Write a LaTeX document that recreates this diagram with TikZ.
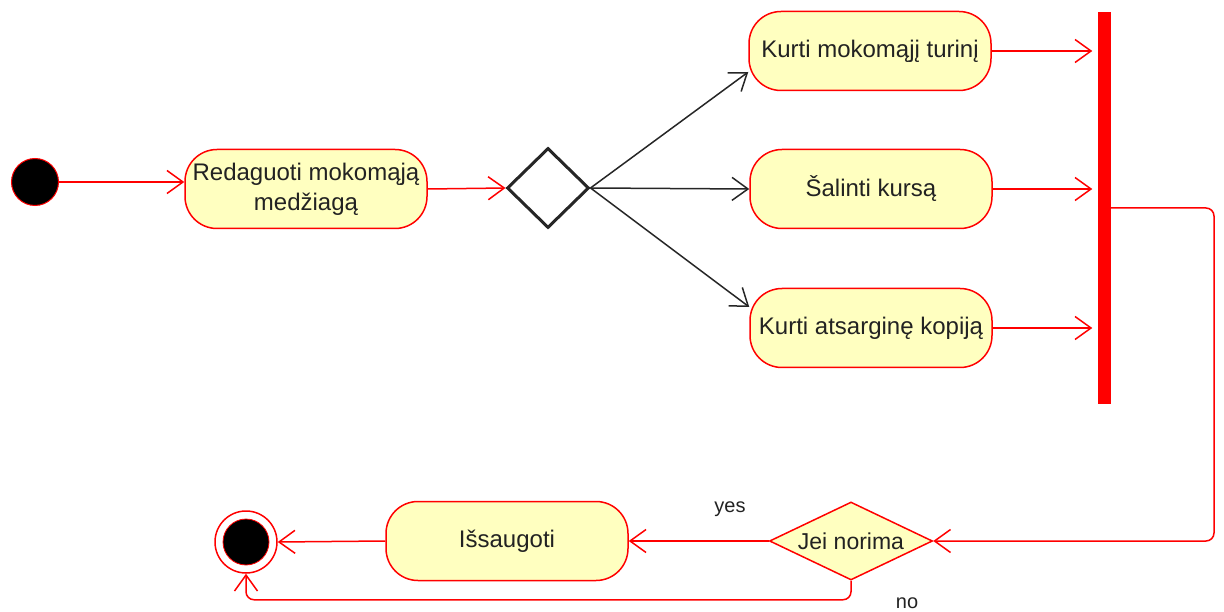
\documentclass[tikz,border=0pt]{standalone}
\usepackage{fontspec}
\setmainfont{Liberation Sans}
\usetikzlibrary{arrows.meta,shapes.geometric}
\definecolor{bxfill}{HTML}{FFFFC0}
\definecolor{umlred}{HTML}{FF0000}
\definecolor{txt}{HTML}{222222}
\begin{document}
\begin{tikzpicture}[x=1pt,y=-1pt,
  act/.style={draw=umlred,fill=bxfill,line width=1.5pt,rounded corners=32pt,
    minimum width=242pt,minimum height=79pt,inner sep=0pt,align=center,
    font=\fontsize{24}{30}\selectfont,text=txt},
  flow/.style={draw=umlred,line width=1.5pt,-{Straight Barb[length=16pt,width=23pt]}},
  blk/.style={draw=black!85,line width=1.5pt,-{Straight Barb[length=16pt,width=23pt]}},
  lbl/.style={font=\fontsize{20}{24}\selectfont,text=txt,inner sep=0pt}]
\useasboundingbox (0,0) rectangle (1224,612);
% nodes
\node[circle,fill=black,draw=umlred,line width=1pt,minimum size=47pt,inner sep=0pt] (start) at (35,182) {};
\node[act] (red) at (306,189) {Redaguoti mokomąją\\medžiagą};
\node[diamond,draw=black!85,line width=3pt,fill=white,minimum width=82pt,minimum height=80pt,inner sep=0pt] (dia) at (548,188) {};
\node[act] (k1) at (870,51) {Kurti mokomąjį turinį};
\node[act] (k2) at (871,189) {Šalinti kursą};
\node[act] (k3) at (871,328) {Kurti atsarginę kopiją};
\node[fill=umlred,minimum width=13pt,minimum height=392pt,inner sep=0pt] (bar) at (1104,208) {};
\node[diamond,draw=umlred,fill=bxfill,line width=1.5pt,aspect=2,minimum width=163pt,minimum height=78pt,inner sep=0pt,font=\fontsize{23}{28}\selectfont,text=txt] (jn) at (851,541) {Jei norima};
\node[act] (sv) at (507,541) {Išsaugoti};
\node[circle,draw=umlred,fill=white,line width=1.5pt,minimum size=62pt,inner sep=0pt] (end) at (246,542) {};
\node[circle,fill=black,draw=umlred,line width=0.8pt,minimum size=46pt,inner sep=0pt] (endin) at (246,542) {};
\coordinate (rx) at (1214,0);
% connectors
\draw[flow] (start.east) -- (start.east -| red.west);
\draw[flow] (red.east) -- (dia.west);
\draw[blk] (dia.east) -- ([yshift=-21pt]k1.west);
\draw[blk] (dia.east) -- (k2.west);
\draw[blk] (dia.east) -- ([yshift=21pt]k3.west);
\draw[flow,shorten >=5pt] (k1.east) -- (k1.east -| bar.west);
\draw[flow,shorten >=5pt] (k2.east) -- (k2.east -| bar.west);
\draw[flow,shorten >=5pt] (k3.east) -- (k3.east -| bar.west);
\draw[flow,rounded corners=8pt] (bar.east) -| (rx |- jn.east) -- (jn.east);
\draw[flow] (jn.west) -- (sv.east);
\draw[flow] (sv.west) -- (end.east);
\draw[flow,rounded corners=8pt] (jn.south) -- ++(0,19) -| (end.south);
% labels
\node[lbl] (yes) at (730,509) {yes};
\node[lbl] (no) at (907,603) {no};
\end{tikzpicture}
\end{document}
